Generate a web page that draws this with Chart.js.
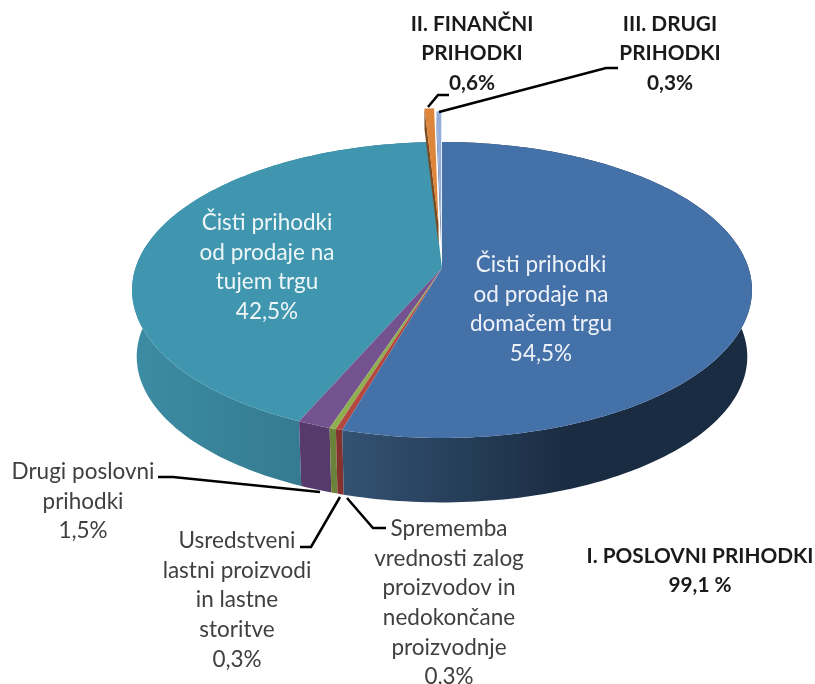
<!DOCTYPE html>
<html>
<head>
<meta charset="utf-8">
<style>
  html, body { margin: 0; padding: 0; background: #fff; }
  canvas { display: block; }
</style>
<script src="https://cdn.jsdelivr.net/npm/chart.js@4"></script>
</head>
<body>
<canvas id="pieChart" width="815" height="684"></canvas>
<script>
var categories = [
    'Čisti prihodki od prodaje na domačem trgu',
    'Sprememba vrednosti zalog proizvodov in nedokončane proizvodnje',
    'Usredstveni lastni proizvodi in lastne storitve',
    'Drugi poslovni prihodki',
    'Čisti prihodki od prodaje na tujem trgu',
    'II. FINANČNI PRIHODKI',
    'III. DRUGI PRIHODKI'
];
var shares = [54.5, 0.3, 0.3, 1.5, 42.5, 0.6, 0.3];
var topColors = ['#4571a9', '#b4473f', '#8fae50', '#74518f', '#3f96ae', '#dd853a', '#94aedb'];
var wallColors = [['#335273', '#1a2c42'], ['#84322d', '#84322d'], ['#6a8239', '#6a8239'], ['#563a6c', '#563a6c'],
    ['#3c8ca4', '#2f6e82'], ['#7a4a20', '#7a4a20'], ['#6f84a8', '#6f84a8']];
var exploded = [0, 0, 0, 0, 0, 0.32, 0.29];

// camera: flat disc seen in perspective, z=1 is the underside
var cx = 442, cy = 268, radiusX = 306.5, radiusY = 144.7, tilt = 0.1486, depth = 67;

function project(u, v, z) {
    var w = 1 / (1 - tilt * v);
    var s = 1 - 0.015 * z;
    return { x: cx + radiusX * u * w * s, y: cy + radiusY * v * w * s + depth * z };
}

function rimPoints(arc, explode, z) {
    var mid = (arc.startAngle + arc.endAngle) / 2;
    var ox = explode * Math.cos(mid), oy = explode * Math.sin(mid);
    var steps = Math.max(2, Math.ceil((arc.endAngle - arc.startAngle) / 0.02));
    var pts = [];
    for (var i = 0; i <= steps; i++) {
        var a = arc.startAngle + (arc.endAngle - arc.startAngle) * i / steps;
        pts.push(project(ox + Math.cos(a), oy + Math.sin(a), z));
    }
    return { pts: pts, apex: project(ox, oy, z) };
}

function fillPoly(ctx, pts, fill) {
    ctx.beginPath();
    pts.forEach(function(p, i) {
        if (i === 0) ctx.moveTo(p.x, p.y); else ctx.lineTo(p.x, p.y);
    });
    ctx.closePath();
    ctx.fillStyle = fill;
    ctx.fill();
}

function drawWall(ctx, arc, i) {
    var high = rimPoints(arc, 0, 0);
    var low = rimPoints(arc, 0, 1);
    var wall = high.pts.concat(low.pts.slice().reverse());
    var xs = wall.map(function(p) { return p.x; });
    var grad = ctx.createLinearGradient(Math.min.apply(null, xs), 0, Math.max.apply(null, xs), 0);
    grad.addColorStop(0, wallColors[i][0]);
    grad.addColorStop(i === 0 ? 0.55 : 1, wallColors[i][1]);
    grad.addColorStop(1, wallColors[i][1]);
    fillPoly(ctx, wall, grad);
}

function drawFace(ctx, arc, i) {
    var face = rimPoints(arc, exploded[i], 0);
    // only a sliver of the cut side shows on the pulled out slices
    if (exploded[i]) {
        var cut = rimPoints(arc, exploded[i], 0.3);
        fillPoly(ctx, [face.apex, face.pts[0], cut.pts[0], cut.apex], wallColors[i][0]);
    }
    fillPoly(ctx, [face.apex].concat(face.pts), topColors[i]);
}

var pie3d = {
    id: 'pie3d',
    beforeDatasetsDraw: function(chart) {
        var ctx = chart.ctx;
        var arcs = chart.getDatasetMeta(0).data;
        var closed = [4, 3, 2, 1, 0];
        ctx.save();
        closed.forEach(function(i) { drawWall(ctx, arcs[i], i); });
        closed.forEach(function(i) { drawFace(ctx, arcs[i], i); });
        drawFace(ctx, arcs[5], 5);
        drawFace(ctx, arcs[6], 6);
        ctx.restore();
        return false;
    }
};

function pct(v) {
    return v.toFixed(1).replace('.', ',') + '%';
}

var labelBlocks = [
    { x: 541, y: 265, color: '#eef2f8', lines: ['Čisti prihodki', 'od prodaje na', 'domačem trgu', pct(shares[0])] },
    { x: 267, y: 223, color: '#eef6f8', lines: ['Čisti prihodki', 'od prodaje na', 'tujem trgu', pct(shares[4])] },
    { x: 83, y: 472, color: '#404040', lines: ['Drugi poslovni', 'prihodki', pct(shares[3])] },
    { x: 237, y: 541, color: '#404040', lines: ['Usredstveni', 'lastni proizvodi', 'in lastne', 'storitve', pct(shares[2])] },
    { x: 449, y: 529, color: '#404040', lines: ['Sprememba', 'vrednosti zalog', 'proizvodov in', 'nedokončane', 'proizvodnje', pct(shares[1])] },
    { x: 472, y: 24, color: '#1a1a1a', bold: true, lines: ['II. FINANČNI', 'PRIHODKI', pct(shares[5])] },
    { x: 670, y: 24, color: '#1a1a1a', bold: true, lines: ['III. DRUGI', 'PRIHODKI', pct(shares[6])] },
    { x: 700, y: 556, color: '#1a1a1a', bold: true, lines: ['I. POSLOVNI PRIHODKI', '99,1 %'] }
];

var leaderLines = [
    [[428, 107], [438, 95], [449, 95]],
    [[439, 112], [606, 68], [618, 68]],
    [[158, 477], [173, 477], [320, 492]],
    [[300, 547], [311, 547], [340, 497]],
    [[347, 498], [373, 528], [386, 528]]
];

var chartText = {
    id: 'chartText',
    afterDraw: function(chart) {
        var ctx = chart.ctx;
        ctx.save();
        ctx.strokeStyle = '#000';
        ctx.lineWidth = 2.5;
        leaderLines.forEach(function(line) {
            ctx.beginPath();
            line.forEach(function(p, i) {
                if (i === 0) ctx.moveTo(p[0], p[1]); else ctx.lineTo(p[0], p[1]);
            });
            ctx.stroke();
        });
        ctx.textAlign = 'center';
        ctx.textBaseline = 'middle';
        labelBlocks.forEach(function(block) {
            ctx.font = block.bold ? 'bold 20.8px Lato' : '22.5px Lato';
            ctx.fillStyle = block.color;
            block.lines.forEach(function(text, i) {
                ctx.fillText(text, block.x, block.y + i * 29.6);
            });
        });
        ctx.restore();
    }
};

new Chart(document.getElementById('pieChart').getContext('2d'), {
    type: 'pie',
    data: {
        labels: categories,
        datasets: [{ data: shares, backgroundColor: topColors, borderWidth: 0 }]
    },
    options: {
        responsive: false,
        animation: false,
        plugins: { legend: { display: false }, tooltip: { enabled: false } }
    },
    plugins: [pie3d, chartText]
});
</script>
</body>
</html>
